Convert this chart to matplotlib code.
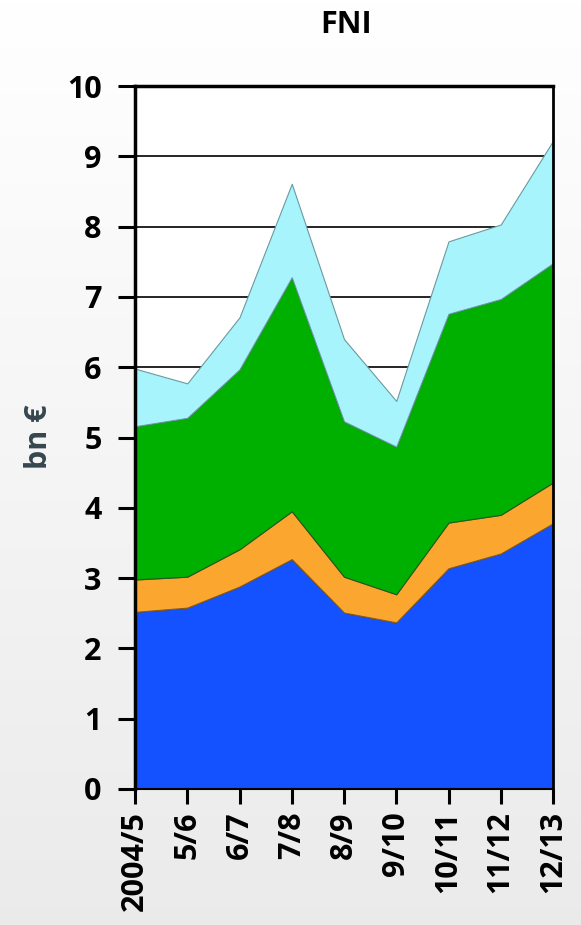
import numpy as np
import matplotlib.pyplot as plt

# --------------------------------
# Data (cumulative tops of each stacked layer, bn EUR)
# --------------------------------
years = ["2004/5", "5/6", "6/7", "7/8", "8/9", "9/10", "10/11", "11/12", "12/13"]
blue_top = [2.52, 2.58, 2.88, 3.27, 2.51, 2.37, 3.14, 3.35, 3.78]
orange_top = [2.98, 3.02, 3.41, 3.95, 3.02, 2.77, 3.79, 3.90, 4.36]
green_top = [5.16, 5.28, 5.97, 7.28, 5.23, 4.87, 6.76, 6.97, 7.48]
cyan_top = [5.98, 5.77, 6.71, 8.61, 6.40, 5.52, 7.79, 8.03, 9.22]

colors = ["#1452FF", "#FBA62E", "#00B000", "#A8F4FC"]
edges = ["#1a3a9a", "#8a5a10", "#1f5a1f", "#6a9aa0"]

plt.rcParams["font.family"] = ["Open Sans", "DejaVu Sans"]
plt.rcParams["font.weight"] = "bold"

fig = plt.figure(figsize=(5.81, 9.25), dpi=100)

# background gradient
bg = fig.add_axes([0, 0, 1, 1], zorder=-10)
grad = np.linspace(1.0, 0.92, 256).reshape(-1, 1)
bg.imshow(np.dstack([grad, grad, grad]), aspect="auto", extent=[0, 1, 0, 1])
bg.set_axis_off()

ax = fig.add_axes([135 / 581, 1 - 789 / 925, (553 - 135) / 581, (789 - 86) / 925])
ax.set_facecolor("white")

x = np.arange(len(years))
layers = [np.zeros(len(years)), blue_top, orange_top, green_top, cyan_top]
for i in range(4):
    ax.fill_between(x, layers[i], layers[i + 1], facecolor=colors[i],
                    edgecolor=edges[i], linewidth=0.8, zorder=3)

ax.set_xlim(0, len(years) - 1)
ax.set_ylim(0, 10)
ax.set_yticks(range(0, 11))
ax.yaxis.grid(True, color="black", linewidth=1.2, zorder=1)
ax.set_axisbelow(True)

ax.set_xticks(x)
ax.set_xticklabels(years, rotation=90, fontsize=22, fontweight="bold")
for lab in ax.get_yticklabels():
    lab.set_fontsize(22)
    lab.set_fontweight("bold")

ax.tick_params(axis="y", length=12, width=2.2, pad=12)
ax.tick_params(axis="x", length=11, width=2.2, pad=5)

for side in ["left", "top"]:
    ax.spines[side].set_linewidth(2.5)
ax.spines["right"].set_linewidth(2.0)
ax.spines["bottom"].set_linewidth(1.5)
for s in ax.spines.values():
    s.set_zorder(5)

fig.text(346 / 581, 1 - 25 / 925, "FNI", ha="center", va="center",
         fontsize=22, fontweight="bold")
fig.text(39 / 581, 1 - 437 / 925, "bn €", ha="center", va="center",
         rotation=90, fontsize=22, fontweight="bold", color="#35464f")

fig.savefig("out.png", dpi=100)
